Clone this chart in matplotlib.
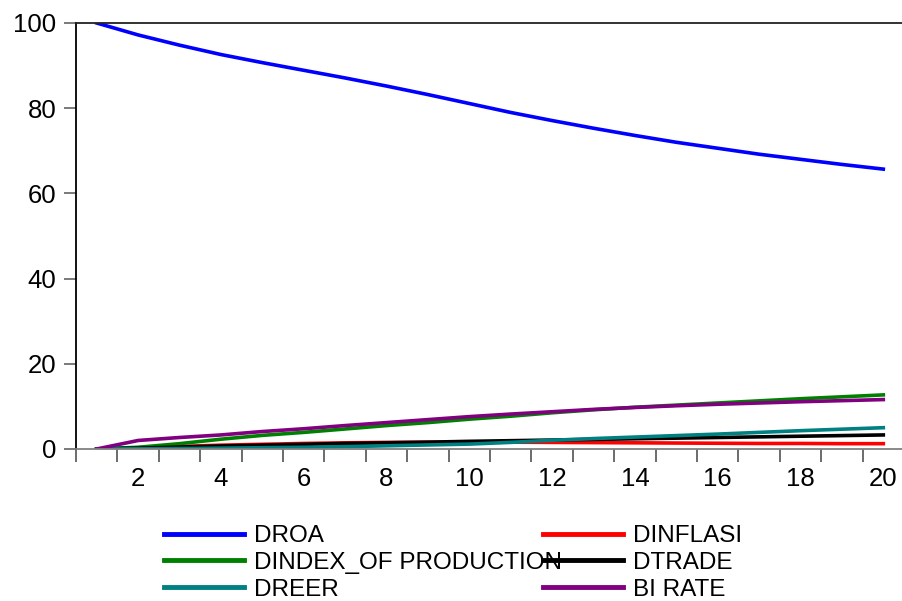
import matplotlib
matplotlib.use("Agg")
import matplotlib.pyplot as plt
import numpy as np

plt.rcParams['font.family'] = ['Liberation Sans', 'DejaVu Sans']

# Variance decomposition of DROA, periods 1..20
periods = np.arange(1, 21)
droa = [100.0, 97.2, 94.8, 92.6, 90.7, 88.9, 87.1, 85.2, 83.2, 81.1,
        79.0, 77.1, 75.3, 73.6, 72.0, 70.6, 69.2, 68.0, 66.8, 65.7]
dinflasi = [0.0, 0.3, 0.6, 0.9, 1.1, 1.3, 1.45, 1.55, 1.6, 1.6,
            1.6, 1.55, 1.5, 1.45, 1.4, 1.35, 1.3, 1.3, 1.25, 1.25]
dindex = [0.0, 0.4, 1.25, 2.3, 3.2, 3.9, 4.7, 5.5, 6.2, 7.0,
          7.7, 8.5, 9.2, 9.8, 10.3, 10.8, 11.3, 11.8, 12.25, 12.7]
dtrade = [0.0, 0.2, 0.45, 0.7, 0.9, 1.1, 1.3, 1.45, 1.6, 1.8,
          1.95, 2.1, 2.25, 2.4, 2.55, 2.7, 2.85, 3.0, 3.15, 3.3]
dreer = [0.0, 0.05, 0.1, 0.2, 0.3, 0.4, 0.55, 0.75, 0.95, 1.15,
         1.55, 2.05, 2.45, 2.8, 3.15, 3.5, 3.9, 4.3, 4.65, 5.0]
birate = [0.0, 2.0, 2.7, 3.3, 4.1, 4.75, 5.5, 6.2, 6.9, 7.6,
          8.2, 8.75, 9.3, 9.75, 10.15, 10.5, 10.8, 11.1, 11.35, 11.6]

fig = plt.figure(figsize=(9.03, 6.01), dpi=100)
ax = fig.add_axes([76 / 903, 152 / 601, 828 / 903, 426 / 601])

lw = 2.6
l1, = ax.plot(periods, droa, color='#0000ff', lw=lw, label='DROA')
l2, = ax.plot(periods, dinflasi, color='#ff0000', lw=lw, label='DINFLASI')
l3, = ax.plot(periods, dindex, color='#008000', lw=lw, label='DINDEX_OF PRODUCTION')
l4, = ax.plot(periods, dtrade, color='#000000', lw=lw, label='DTRADE')
l5, = ax.plot(periods, dreer, color='#008080', lw=lw, label='DREER')
l6, = ax.plot(periods, birate, color='#800080', lw=lw, label='BI RATE')

ax.set_xlim(0.5, 20.5)
ax.set_ylim(0, 100)
ax.set_yticks(range(0, 101, 20))
ax.set_xticks(range(2, 21, 2))
ax.set_xticks(np.arange(0.5, 20.6, 1), minor=True)

ax.spines['right'].set_visible(False)
ax.spines['top'].set_color('#222222')
ax.spines['left'].set_color('#000000')
ax.spines['bottom'].set_color('#808080')
for s in ['top', 'left', 'bottom']:
    ax.spines[s].set_linewidth(1.3)

ax.tick_params(axis='y', direction='out', length=9, width=1.3, color='#707070',
               labelsize=18.5, pad=5)
ax.tick_params(axis='x', which='major', length=0, labelsize=18.5, pad=13)
ax.tick_params(axis='x', which='minor', direction='out', length=9, width=1.3,
               color='#606060')

leg_kw = dict(frameon=False, fontsize=17.5, handlelength=3.3, handletextpad=0.4,
              labelspacing=0.2, borderpad=0, borderaxespad=0,
              loc='upper left', bbox_transform=fig.transFigure)
leg1 = fig.legend(handles=[l1, l3, l5], bbox_to_anchor=(164 / 903, 1 - 525 / 601), **leg_kw)
leg2 = fig.legend(handles=[l2, l4, l6], bbox_to_anchor=(543 / 903, 1 - 525 / 601), **leg_kw)
for leg in (leg1, leg2):
    for h in leg.legend_handles:
        h.set_linewidth(3.5)

fig.savefig('out.png', dpi=100)
